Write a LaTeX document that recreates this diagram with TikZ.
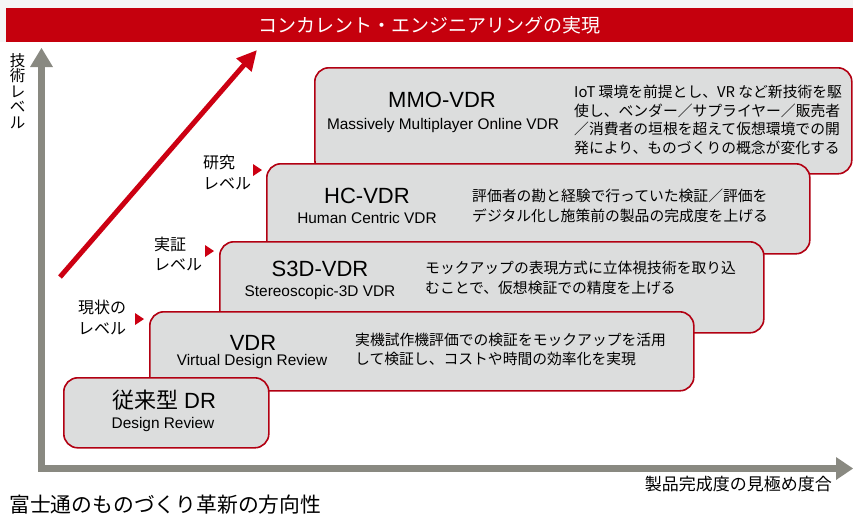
\documentclass[tikz,border=0pt]{standalone}
\usepackage{fontspec}
\setmainfont{Liberation Sans}
\newfontfamily\jp{Noto Sans CJK JP}
\usetikzlibrary{arrows.meta}
\definecolor{bannerred}{RGB}{197,0,13}
\definecolor{boxred}{RGB}{178,0,18}
\definecolor{boxfill}{RGB}{220,221,221}
\definecolor{axisgray}{RGB}{137,137,129}
\definecolor{arrowred}{RGB}{204,0,18}
\definecolor{topgray}{RGB}{245,245,245}
\begin{document}
\begin{tikzpicture}[x=1pt,y=-1pt,
  stage/.style={draw=boxred, line width=1.6pt, fill=boxfill, rounded corners=14pt, anchor=north west, inner sep=0pt},
  ttl/.style={font=\fontsize{22}{22}\selectfont, anchor=base, inner sep=0pt},
  sub/.style={font=\fontsize{15.4}{15.4}\selectfont, anchor=base, inner sep=0pt},
  desc/.style={font=\jp\fontsize{14.8}{19.8}\selectfont, anchor=west, align=left, inner sep=0pt},
  lvl/.style={font=\jp\fontsize{16}{20.5}\selectfont, align=left, inner sep=0pt, anchor=west},
  marker/.style={fill=arrowred}
]
\useasboundingbox (0,0) rectangle (853,515);
\fill[white] (0,0) rectangle (853,515);
\fill[topgray] (0,0) rectangle (853,42);
% banner
\node[fill=bannerred, minimum width=847pt, minimum height=34pt, anchor=north west, inner sep=0pt] (banner) at (6,8) {};
\node[font=\jp\fontsize{19}{19}\selectfont, text=white, inner sep=0pt] (btitle) at (429,25.5) {コンカレント・エンジニアリングの実現};
% axes
\coordinate (ytop) at (41.5,66);
\coordinate (yo) at (41.5,468.5);
\coordinate (xend) at (837,468.5);
\draw[axisgray, line width=7pt] (ytop) -- (yo) -- (xend);
\fill[axisgray] (30,67) -- (41.5,48) -- (53,67) -- cycle;
\fill[axisgray] (836,457) -- (853,468.5) -- (836,480) -- cycle;
\node[font=\jp\fontsize{15.5}{15.6}\selectfont, align=center, inner sep=0pt] (ylab) at (17.5,91) {技\\術\\レ\\ベ\\ル};
\node[font=\jp\fontsize{17}{17}\selectfont, anchor=east, inner sep=0pt] (xlab) at (832,484) {製品完成度の見極め度合};
% red arrow
\coordinate (ra) at (60,277);
\coordinate (rb) at (257,50);
\draw[arrowred, line width=5pt, -{Triangle[length=20pt,width=19pt]}] (ra) -- (rb);
% stages
\node[stage, minimum width=537pt, minimum height=106pt] (mmo) at (314,67) {};
\node[stage, minimum width=543pt, minimum height=90pt] (hc) at (266,163) {};
\node[stage, minimum width=544pt, minimum height=91pt] (s3d) at (219,241) {};
\node[stage, minimum width=544pt, minimum height=79pt] (vdr) at (149,311) {};
\node[stage, minimum width=205pt, minimum height=70pt] (dr) at (63,377) {};
% MMO
\node[ttl] (mmot) at (442,107) {MMO-VDR};
\node[sub] (mmos) at (443,129) {Massively Multiplayer Online VDR};
\node[desc, font=\jp\fontsize{14.8}{18.7}\selectfont] (mmod) at (574,120) {IoT 環境を前提とし、VR など新技術を駆\\使し、ベンダー／サプライヤー／販売者\\／消費者の垣根を超えて仮想環境での開\\発により、ものづくりの概念が変化する};
% HC
\node[ttl] (hct) at (367,203) {HC-VDR};
\node[sub] (hcs) at (367,223) {Human Centric VDR};
\node[desc] (hcd) at (472,206) {評価者の勘と経験で行っていた検証／評価を\\デジタル化し施策前の製品の完成度を上げる};
% S3D
\node[ttl] (s3dt) at (320,276.5) {S3D-VDR};
\node[sub] (s3ds) at (320,296) {Stereoscopic-3D VDR};
\node[desc] (s3dd) at (425,278) {モックアップの表現方式に立体視技術を取り込\\むことで、仮想検証での精度を上げる};
% VDR
\node[ttl] (vdrt) at (253,350) {VDR};
\node[sub] (vdrs) at (252,365.5) {Virtual Design Review};
\node[desc] (vdrd) at (355,349.5) {実機試作機評価での検証をモックアップを活用\\して検証し、コストや時間の効率化を実現};
% DR
\node[ttl] (drt) at (164,408) {{\jp 従来型} DR};
\node[sub] (drs) at (163,428) {Design Review};
% level labels
\node[lvl] (l3) at (203,172.5) {研究\\レベル};
\fill[marker] (253,164) -- (262,170) -- (253,176) -- cycle;
\node[lvl] (l2) at (154,254) {実証\\レベル};
\fill[marker] (205,245) -- (214,251) -- (205,257) -- cycle;
\node[lvl] (l1) at (78,317.5) {現状の\\レベル};
\fill[marker] (135,313) -- (144,319) -- (135,325) -- cycle;
% caption
\node[font=\jp\fontsize{20.8}{20.8}\selectfont, anchor=west, inner sep=0pt] (caption) at (9,504.5) {富士通のものづくり革新の方向性};
\end{tikzpicture}
\end{document}
